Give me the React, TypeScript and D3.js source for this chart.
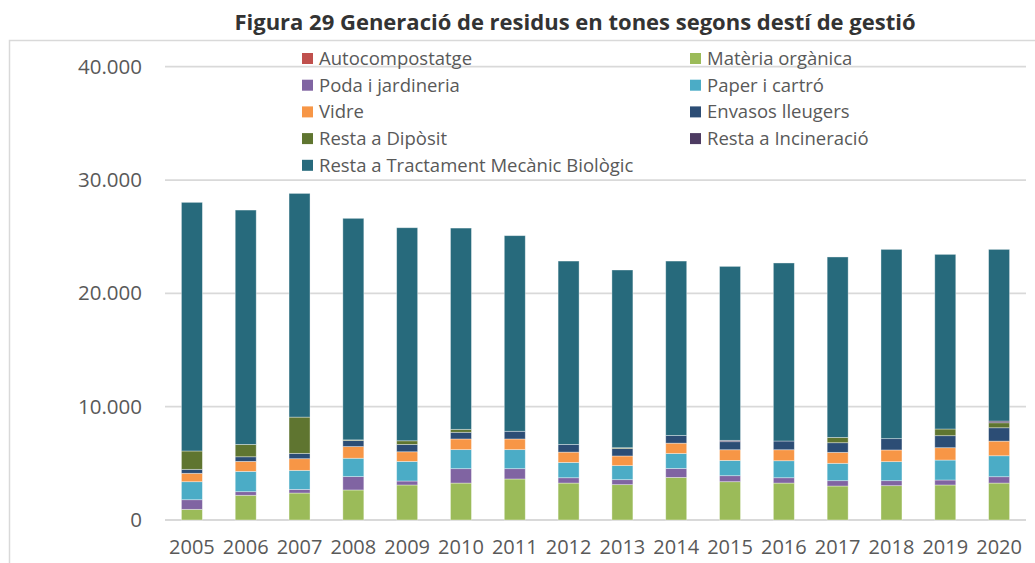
import React, { useEffect, useRef } from "react";
import * as d3 from "d3";

// Years on the x axis
const years = [
  "2005", "2006", "2007", "2008", "2009", "2010", "2011", "2012",
  "2013", "2014", "2015", "2016", "2017", "2018", "2019", "2020",
];

// Tonnes per destination (bottom to top)
const autocompostatge = [0, 0, 0, 0, 0, 0, 0, 0, 0, 0, 0, 0, 0, 0, 0, 0];
const materiaOrganica = [940, 2180, 2380, 2650, 3090, 3260, 3620, 3260, 3120, 3760, 3380, 3260, 3000, 3030, 3090, 3260];
const podaJardineria = [850, 320, 320, 1180, 350, 1270, 910, 470, 440, 790, 530, 470, 470, 440, 440, 560];
const paperCartro = [1590, 1790, 1680, 1620, 1730, 1680, 1680, 1350, 1240, 1320, 1350, 1500, 1530, 1680, 1760, 1850];
const vidre = [740, 880, 1030, 1030, 850, 940, 940, 910, 850, 910, 940, 970, 970, 1030, 1090, 1290];
const envasos = [350, 410, 470, 530, 650, 590, 680, 680, 650, 680, 710, 770, 850, 1000, 1060, 1180];
const restaDiposit = [1620, 1090, 3200, 60, 320, 260, 0, 0, 80, 0, 0, 0, 470, 0, 590, 440];
const restaIncineracio = [0, 0, 0, 0, 0, 0, 0, 0, 0, 0, 120, 0, 0, 0, 0, 150];
const totals = [28030, 27350, 28820, 26620, 25790, 25760, 25090, 22850, 22060, 22850, 22380, 22680, 23210, 23880, 23440, 23880];
// Resta a TMB = total minus the other destinations
const restaTMB = totals.map(
  (t, i) =>
    t - autocompostatge[i] - materiaOrganica[i] - podaJardineria[i] - paperCartro[i] -
    vidre[i] - envasos[i] - restaDiposit[i] - restaIncineracio[i]
);

const seriesNames = [
  "Autocompostatge",
  "Matèria orgànica",
  "Poda i jardineria",
  "Paper i cartró",
  "Vidre",
  "Envasos lleugers",
  "Resta a Dipòsit",
  "Resta a Incineració",
  "Resta a Tractament Mecànic Biològic",
];
const seriesValues = [
  autocompostatge, materiaOrganica, podaJardineria, paperCartro, vidre,
  envasos, restaDiposit, restaIncineracio, restaTMB,
];
const seriesColors = [
  "#C0504D", "#9BBB59", "#8064A2", "#4BACC6", "#F79646",
  "#2C4D75", "#5F7530", "#4D3B62", "#276A7C",
];

const yTicks = [0, 10000, 20000, 30000, 40000];

const title = "Figura 29 Generació de residus en tones segons destí de gestió";

export default function App() {
  const ref = useRef<SVGSVGElement | null>(null);

  useEffect(() => {
    const width = 1035,
      height = 563;
    const font = "'Open Sans', sans-serif";
    const textColor = "#595959";

    const svg = d3.select(ref.current).attr("width", width).attr("height", height);
    svg.selectAll("*").remove();

    // Table for d3.stack
    const rows = years.map((year, i) => {
      const row: any = { year };
      seriesNames.forEach((name, s) => (row[name] = seriesValues[s][i]));
      return row;
    });
    const stacked = d3.stack().keys(seriesNames)(rows);

    const x = d3
      .scaleBand()
      .domain(years)
      .range([165, 1026])
      .paddingInner(0.61)
      .paddingOuter(0.305);
    const y = d3.scaleLinear().domain([0, 40000]).range([520, 66.7]);

    const locale = d3.formatLocale({
      decimal: ",",
      thousands: ".",
      grouping: [3],
      currency: ["", ""],
    });
    const fmt = locale.format(",");

    // Title
    svg
      .append("text")
      .attr("x", 575)
      .attr("y", 30)
      .attr("text-anchor", "middle")
      .attr("font-family", font)
      .attr("font-weight", "bold")
      .attr("font-size", 22)
      .attr("fill", "#333333")
      .text(title);

    // Chart area border
    svg
      .append("rect")
      .attr("x", 9.5)
      .attr("y", 40.5)
      .attr("width", 1100)
      .attr("height", 600)
      .attr("fill", "none")
      .attr("stroke", "#d9d9d9")
      .attr("stroke-width", 1.5);

    // Gridlines
    svg
      .append("g")
      .selectAll("line")
      .data(yTicks)
      .join("line")
      .attr("x1", 165)
      .attr("x2", 1026)
      .attr("y1", (d) => y(d))
      .attr("y2", (d) => y(d))
      .attr("stroke", "#d9d9d9")
      .attr("stroke-width", 1.8);

    // Y axis labels
    const yAxis = svg
      .append("g")
      .attr("transform", "translate(165,0)")
      .call(d3.axisLeft(y).tickValues(yTicks).tickFormat((d: any) => fmt(d)).tickSize(0).tickPadding(23));
    yAxis.select(".domain").remove();
    yAxis
      .selectAll("text")
      .attr("font-family", font)
      .attr("font-size", 20.5)
      .attr("fill", textColor);

    // X axis labels
    const xAxis = svg
      .append("g")
      .attr("transform", "translate(0,520)")
      .call(d3.axisBottom(x).tickSize(0).tickPadding(20));
    xAxis.select(".domain").remove();
    xAxis
      .selectAll("text")
      .attr("font-family", font)
      .attr("font-size", 20)
      .attr("fill", textColor);

    // Stacked bars
    svg
      .append("g")
      .selectAll("g")
      .data(stacked)
      .join("g")
      .attr("fill", (_d, i) => seriesColors[i])
      .selectAll("rect")
      .data((d) => d)
      .join("rect")
      .attr("x", (d: any) => x(d.data.year) as number)
      .attr("width", x.bandwidth())
      .attr("y", (d) => y(d[1]))
      .attr("height", (d) => y(d[0]) - y(d[1]))
      .attr("stroke", "#ffffff")
      .attr("stroke-opacity", 0.45)
      .attr("stroke-width", 0.8);

    // Legend, two columns
    const legend = svg.append("g");
    seriesNames.forEach((name, i) => {
      const col = i % 2;
      const row = Math.floor(i / 2);
      const lx = col === 0 ? 302 : 690;
      const ly = 58.5 + row * 26.7;
      legend
        .append("rect")
        .attr("x", lx)
        .attr("y", ly - 5.5)
        .attr("width", 11)
        .attr("height", 11)
        .attr("fill", seriesColors[i]);
      legend
        .append("text")
        .attr("x", lx + 17)
        .attr("y", ly + 6.5)
        .attr("font-family", font)
        .attr("font-size", 18.5)
        .attr("fill", textColor)
        .text(name);
    });
  }, []);

  return <svg ref={ref} style={{ position: "absolute", left: 0, top: 0 }}></svg>;
}
